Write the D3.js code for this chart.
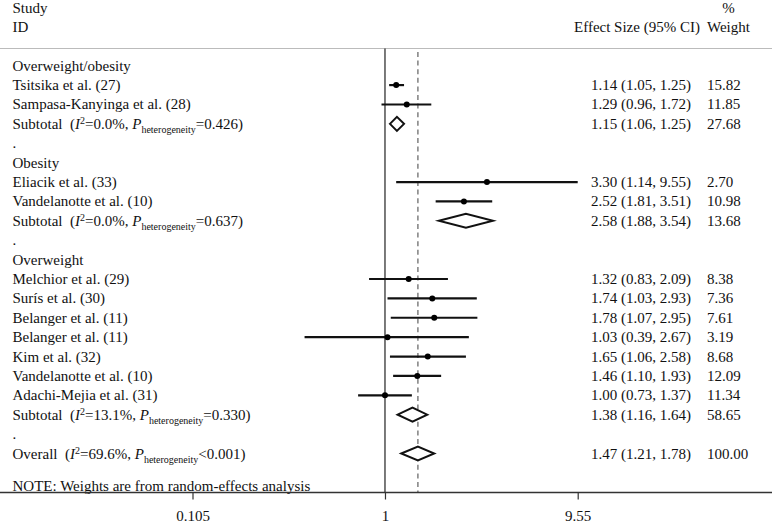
<!DOCTYPE html>
<meta charset="utf-8">
<script src="https://d3js.org/d3.v7.min.js"></script>
<style>
  body { margin: 0; background: #fff; }
  text { font-family: "Liberation Serif", "Times New Roman", serif; font-size: 15px; fill: #111; }
</style>
<div id="forest"></div>
<script>

// Data
var groupNames = ["Overweight/obesity", "Obesity", "Overweight"];

var studyLabels = ["Tsitsika et al. (27)", "Sampasa-Kanyinga et al. (28)",
  "Eliacik et al. (33)", "Vandelanotte et al. (10)",
  "Melchior et al. (29)", "Surís et al. (30)", "Belanger et al. (11)", "Belanger et al. (11)",
  "Kim et al. (32)", "Vandelanotte et al. (10)", "Adachi-Mejia et al. (31)"];
var studyGroup = [0, 0, 1, 1, 2, 2, 2, 2, 2, 2, 2];
var studyES = [1.14, 1.29, 3.30, 2.52, 1.32, 1.74, 1.78, 1.03, 1.65, 1.46, 1.00];
var studyLo = [1.05, 0.96, 1.14, 1.81, 0.83, 1.03, 1.07, 0.39, 1.06, 1.10, 0.73];
var studyHi = [1.25, 1.72, 9.55, 3.51, 2.09, 2.93, 2.95, 2.67, 2.58, 1.93, 1.37];
var studyWeight = ["15.82", "11.85", "2.70", "10.98", "8.38", "7.36", "7.61", "3.19", "8.68", "12.09", "11.34"];

var subES = [1.15, 2.58, 1.38];
var subLo = [1.06, 1.88, 1.16];
var subHi = [1.25, 3.54, 1.64];
var subWeight = ["27.68", "13.68", "58.65"];
var subI2 = ["0.0%", "0.0%", "13.1%"];
var subP = ["=0.426", "=0.637", "=0.330"];

var overall = { es: 1.47, lo: 1.21, hi: 1.78, weight: "100.00", i2: "69.6%", p: "<0.001" };

var tickValues = [0.105, 1, 9.55];

// build the row list
var rows = [];
groupNames.forEach(function(g, gi) {
  rows.push({ type: "head", label: g });
  studyLabels.forEach(function(s, i) {
    if (studyGroup[i] === gi) {
      rows.push({ type: "study", label: s, es: studyES[i], lo: studyLo[i], hi: studyHi[i], weight: studyWeight[i] });
    }
  });
  rows.push({ type: "sub", label: "Subtotal", es: subES[gi], lo: subLo[gi], hi: subHi[gi], weight: subWeight[gi], i2: subI2[gi], p: subP[gi] });
  rows.push({ type: "blank", label: "." });
});
rows.push({ type: "overall", label: "Overall", es: overall.es, lo: overall.lo, hi: overall.hi, weight: overall.weight, i2: overall.i2, p: overall.p });

var width = 773, height = 523;

var svg = d3.select("#forest")
  .append("svg")
    .attr("width", width)
    .attr("height", height);

var x = d3.scaleLog()
  .domain([0.105, 9.55])
  .range([192.5, 577.7]);

var y = d3.scaleLinear()
  .domain([0, rows.length - 1])
  .range([65.7, 453.5]);

var axisY = 492.5;
var fmt = d3.format(".2f");

// header
svg.append("text").attr("x", 12.5).attr("y", 13).text("Study");
svg.append("text").attr("x", 12.5).attr("y", 32).text("ID");
svg.append("text").attr("x", 728.5).attr("y", 13).attr("text-anchor", "middle").text("%");
svg.append("text").attr("x", 574).attr("y", 32).text("Effect Size (95% CI)");
svg.append("text").attr("x", 707).attr("y", 32).text("Weight");

svg.append("line")
  .attr("x1", 0).attr("x2", 772)
  .attr("y1", 48.5).attr("y2", 48.5)
  .style("stroke", "#bbb")
  .style("stroke-width", 1.2);

// null line and overall line
svg.append("line")
  .attr("x1", x(1)).attr("x2", x(1))
  .attr("y1", 48.5).attr("y2", axisY)
  .style("stroke", "#222")
  .style("stroke-width", 1.2);

svg.append("line")
  .attr("x1", x(overall.es)).attr("x2", x(overall.es))
  .attr("y1", 52).attr("y2", axisY)
  .style("stroke", "#888")
  .style("stroke-width", 1.6)
  .style("stroke-dasharray", "5,3.6");

// left labels
var lab = svg.append("g").selectAll("text")
  .data(rows)
  .enter()
  .append("text")
    .attr("x", 12.5)
    .attr("y", function(d, i) { return y(i) + 5; });

lab.each(function(d) {
  var t = d3.select(this);
  if (d.type === "sub" || d.type === "overall") {
    t.append("tspan").text(d.label + "\u00a0\u00a0(");
    t.append("tspan").style("font-style", "italic").text("I");
    t.append("tspan").attr("dy", -5).style("font-size", "10px").text("2");
    t.append("tspan").attr("dy", 5).text("=" + d.i2 + ", ");
    t.append("tspan").style("font-style", "italic").text("P");
    t.append("tspan").attr("dy", 4).style("font-size", "10px").text("heterogeneity");
    t.append("tspan").attr("dy", -4).text(d.p + ")");
  } else {
    t.text(d.label);
  }
});

var withES = rows.map(function(d, i) { d.row = i; return d; })
  .filter(function(d) { return d.es !== undefined; });

// right columns
svg.append("g").selectAll("text")
  .data(withES)
  .enter()
  .append("text")
    .attr("x", 591)
    .attr("y", function(d) { return y(d.row) + 5; })
    .text(function(d) { return fmt(d.es) + " (" + fmt(d.lo) + ", " + fmt(d.hi) + ")"; });

svg.append("g").selectAll("text")
  .data(withES)
  .enter()
  .append("text")
    .attr("x", 707)
    .attr("y", function(d) { return y(d.row) + 5; })
    .text(function(d) { return d.weight; });

// study CIs and points
var studies = withES.filter(function(d) { return d.type === "study"; });

svg.append("g").selectAll("line")
  .data(studies)
  .enter()
  .append("line")
    .attr("x1", function(d) { return x(d.lo); })
    .attr("x2", function(d) { return x(d.hi); })
    .attr("y1", function(d) { return y(d.row); })
    .attr("y2", function(d) { return y(d.row); })
    .style("stroke", "#111")
    .style("stroke-width", 2.2);

svg.append("g").selectAll("circle")
  .data(studies)
  .enter()
  .append("circle")
    .attr("cx", function(d) { return x(d.es); })
    .attr("cy", function(d) { return y(d.row); })
    .attr("r", 3)
    .style("fill", "#000");

// pooled diamonds
var pooled = withES.filter(function(d) { return d.type === "sub" || d.type === "overall"; });

svg.append("g").selectAll("path")
  .data(pooled)
  .enter()
  .append("path")
    .attr("d", function(d) {
      var cy = y(d.row), h = 7;
      return "M" + x(d.lo) + "," + cy +
        "L" + x(d.es) + "," + (cy - h) +
        "L" + x(d.hi) + "," + cy +
        "L" + x(d.es) + "," + (cy + h) + "Z";
    })
    .style("fill", "#fff")
    .style("stroke", "#111")
    .style("stroke-width", 2);

// note
svg.append("text").attr("x", 12.5).attr("y", y(rows.length - 1) + 37).text("NOTE: Weights are from random-effects analysis");

// x axis
svg.append("line")
  .attr("x1", 0).attr("x2", 772)
  .attr("y1", axisY).attr("y2", axisY)
  .style("stroke", "#333")
  .style("stroke-width", 1.3);

var xAxis = svg.append("g")
  .attr("transform", "translate(0," + axisY + ")")
  .call(d3.axisBottom(x)
    .tickValues(tickValues)
    .tickFormat(function(d) { return String(d); })
    .tickSize(7)
    .tickPadding(11));

xAxis.select(".domain").remove();
xAxis.selectAll(".tick line").style("stroke", "#333").style("stroke-width", 1.2);
xAxis.selectAll(".tick text")
  .style("font-family", "'Liberation Serif', 'Times New Roman', serif")
  .style("font-size", "15px")
  .style("fill", "#111");

</script>
